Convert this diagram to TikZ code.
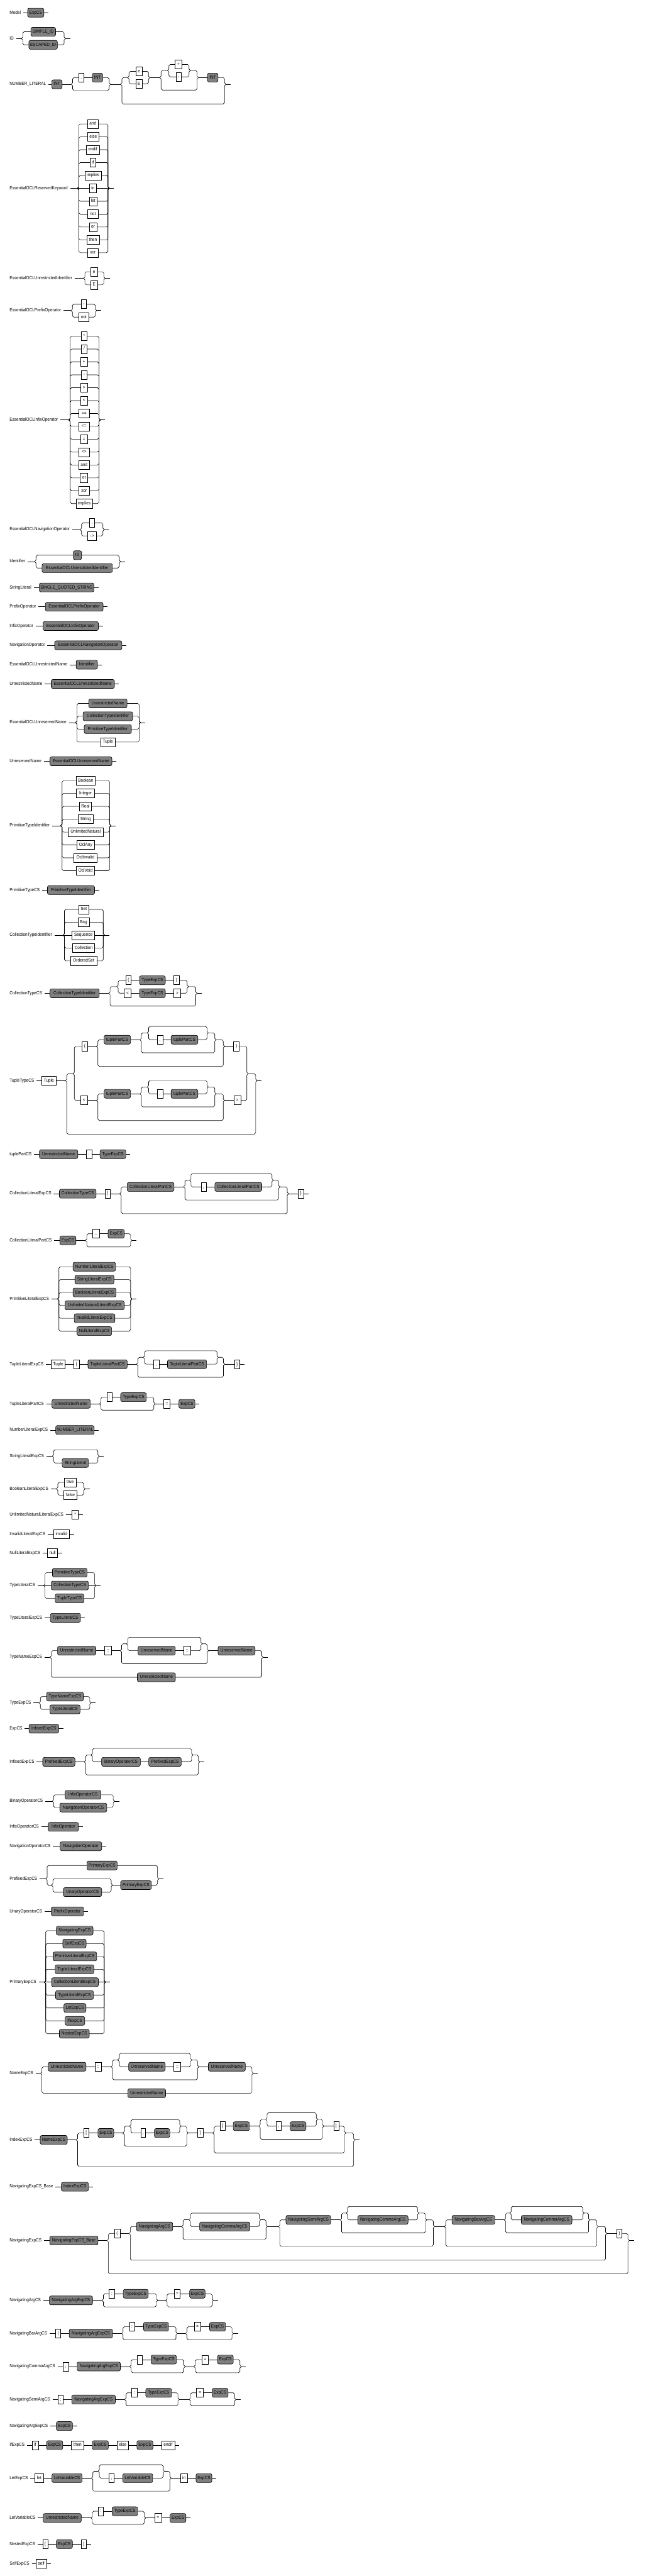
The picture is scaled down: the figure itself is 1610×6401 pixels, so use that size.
\documentclass[tikz,border=0pt]{standalone}
\usepackage{fontspec}
\setmainfont{Liberation Sans}[FakeStretch=0.88]
\definecolor{ntgray}{RGB}{128,128,128}
\newcommand\lblfont{\fontsize{11.5}{13}\selectfont}
\tikzset{
 rail/.style={line width=1pt},
 ntbox/.style={draw, line width=1pt, fill=ntgray, rounded corners=4pt, minimum height=22pt, inner sep=0pt, outer sep=0pt, font=\lblfont, text height=8.3pt, text depth=2.4pt},
 tmbox/.style={draw, line width=1pt, fill=white, minimum height=22pt, inner sep=0pt, outer sep=0pt, font=\lblfont, text height=8.3pt, text depth=2.4pt},
 rlabel/.style={anchor=west, inner sep=0pt, outer sep=0pt, font=\lblfont, text height=8.3pt, text depth=2.4pt},
}
\def\rrc{3.5}
\newcommand\NTb[5]{\pgfmathsetmacro\rrw{(#3)-(#2)}\pgfmathsetmacro\rrx{((#2)+(#3))/2}\node[ntbox, minimum width=\rrw pt] (#1) at (\rrx,#4) {#5};}
\newcommand\TMb[5]{\pgfmathsetmacro\rrw{(#3)-(#2)}\pgfmathsetmacro\rrx{((#2)+(#3))/2}\node[tmbox, minimum width=\rrw pt] (#1) at (\rrx,#4) {#5};}
\newcommand\LabN[3]{\node[rlabel] (#1) at (24,#2) {#3};}
\newcommand\LabL[2]{\draw[rail, shorten <=6pt] (#1.east) -- (#2);}
\newcommand\SeqL[2]{\draw[rail] (#1) -- (#2);}
\newcommand\ExL[1]{\draw[rail] (#1) -- ++(11.5,0);}
% left branch: xs ym yi target
\newcommand\BrL[4]{\pgfmathsetmacro\rrs{sign((#3)-(#2))}\draw[rail] (#1,#2) -- ({#1+\rrc},{#2+(\rrs)*\rrc}) -- ({#1+\rrc},{#3-(\rrs)*\rrc}) -- ({#1+2*\rrc},#3) -- (#4);}
% right merge: source yi xe ym
\newcommand\MgR[4]{\pgfmathsetmacro\rrs{sign((#2)-(#4))}\draw[rail] (#1) -- ({#3-2*\rrc},#2) -- ({#3-\rrc},{#2-(\rrs)*\rrc}) -- ({#3-\rrc},{#4+(\rrs)*\rrc}) -- (#3,#4);}
% bypass: xs xe ym yi
\newcommand\ByP[4]{\pgfmathsetmacro\rrs{sign((#4)-(#3))}\draw[rail] (#1,#3) -- ({#1+\rrc},{#3+(\rrs)*\rrc}) -- ({#1+\rrc},{#4-(\rrs)*\rrc}) -- ({#1+2*\rrc},#4) -- ({#2-2*\rrc},#4) -- ({#2-\rrc},{#4-(\rrs)*\rrc}) -- ({#2-\rrc},{#3+(\rrs)*\rrc}) -- (#2,#3);}
% alternative row: xs xe ym yi first last
\newcommand\AltG[6]{\BrL{#1}{#3}{#4}{#5.west}\MgR{#6.east}{#4}{#2}{#3}}
% optional: xs xe ym yup ydown first last
\newcommand\OptG[7]{\AltG{#1}{#2}{#3}{#4}{#6}{#7}\ByP{#1}{#2}{#3}{#5}}
% loop: xsB xsC xeC xeB yrow first last
\newcommand\LoopG[7]{\pgfmathsetmacro\rrya{(#5)-17}\pgfmathsetmacro\rryb{(#5)+32.5}\pgfmathsetmacro\rryc{(#5)-33.3}%
 \BrL{#1}{#5}{\rrya}{#2,\rrya}\ByP{#2}{#3}{\rrya}{\rryc}\AltG{#2}{#3}{\rrya}{#5}{#6}{#7}\MgR{#3,\rrya}{\rrya}{#4}{#5}\ByP{#1}{#4}{#5}{\rryb}}
\newcommand\SetG[3]{\def\gxs{#1}\def\gxe{#2}\def\gym{#3}}
\newcommand\ATm[5]{\TMb{#1}{#2}{#3}{#4}{#5}\AltG{\gxs}{\gxe}{\gym}{#4}{#1}{#1}}
\newcommand\ANt[5]{\NTb{#1}{#2}{#3}{#4}{#5}\AltG{\gxs}{\gxe}{\gym}{#4}{#1}{#1}}
\newcommand\SimpleN[6]{\LabN{l#1}{#2}{#3}\NTb{n#1}{#4}{#5}{#2}{#6}\LabL{l#1}{n#1.west}\ExL{n#1.east}}
\newcommand\SimpleT[6]{\LabN{l#1}{#2}{#3}\TMb{n#1}{#4}{#5}{#2}{#6}\LabL{l#1}{n#1.west}\ExL{n#1.east}}
\newcommand\TupRow[8]{\pgfmathsetmacro\tya{(#2)-16.5}\pgfmathsetmacro\tyb{(#2)+49.9}%
 \TMb{#1o}{#4}{#5}{#2}{#3}%
 \NTb{#1t}{258.9}{324.4}{\tya}{tuplePartCS}%
 \TMb{#1k}{391.3}{404.7}{\tya}{,}%
 \NTb{#1u}{425.4}{491.8}{\tya}{tuplePartCS}%
 \TMb{#1c}{#7}{#8}{#2}{#6}%
 \SeqL{#1o.east}{240,#2}%
 \BrL{240}{#2}{\tya}{#1t.west}%
 \SeqL{#1t.east}{347.7,\tya}%
 \SeqL{#1k.east}{#1u.west}%
 \LoopG{347.7}{366}{518.2}{537.5}{\tya}{#1k}{#1u}%
 \MgR{537.5,\tya}{\tya}{558.6}{#2}%
 \ByP{240}{558.6}{#2}{\tyb}%
 \SeqL{558.6,#2}{#1c.west}}
\begin{document}
\begin{tikzpicture}[x=1pt,y=-1pt]
\useasboundingbox (0,0) rectangle (1610,6401);
\fill[white] (0,0) rectangle (1610,6401);
% Model
\SimpleN{1}{31.5}{Model}{68.6}{109}{ExpCS}
% ID
\LabN{l2}{95.7}{ID}\LabL{l2}{53,95.7}
\SetG{53}{163}{95.7}
\ANt{n2a}{76.7}{138.2}{79}{SIMPLE\_ID}
\ANt{n2b}{71.8}{142.7}{111.4}{ESCAPED\_ID}
\ExL{163,95.7}
% NUMBER_LITERAL
\LabN{l3}{209.4}{NUMBER\_LITERAL}
\NTb{n3a}{128.8}{154.3}{209.4}{INT}
\LabL{l3}{n3a.west}
\SeqL{n3a.east}{177,209.4}
\TMb{n3b}{195.6}{208.6}{192.8}{.}
\NTb{n3c}{229.7}{255.3}{192.8}{INT}
\SeqL{n3b.east}{n3c.west}
\OptG{177}{275}{209.4}{192.8}{224.9}{n3b}{n3c}
\SeqL{275,209.4}{299.7,209.4}
\BrL{299.7}{209.4}{192.8}{317.3,192.8}
\SetG{317.3}{372.8}{192.8}
\ATm{n3d}{337.9}{353.1}{177.3}{e}
\ATm{n3e}{337.9}{353.1}{208.3}{E}
\SeqL{372.8,192.8}{397,192.8}
\BrL{397}{192.8}{175}{416.4,175}
\SetG{416.4}{473.4}{175}
\ATm{n3f}{435.2}{452.7}{160.1}{+}
\ATm{n3g}{437.5}{451}{191.1}{-}
\MgR{473.4,175}{175}{493.6}{192.8}
\ByP{397}{493.6}{192.8}{223.8}
\NTb{n3h}{516}{542}{192.8}{INT}
\SeqL{493.6,192.8}{n3h.west}
\MgR{n3h.east}{192.8}{562}{209.4}
\ByP{299.7}{562}{209.4}{258.3}
\ExL{562,209.4}
% EssentialOCLReservedKeyword
\LabN{l4}{468}{EssentialOCLReservedKeyword}\LabL{l4}{192.5,468}
\SetG{192.5}{272}{468}
\ATm{n4a}{217.2}{245}{308}{and}
\ATm{n4b}{217.6}{245.9}{340}{else}
\ATm{n4c}{214}{247.7}{372}{endif}
\ATm{n4d}{223.5}{238.7}{404}{if}
\ATm{n4e}{211.3}{251.7}{436}{implies}
\ATm{n4f}{222.6}{239.6}{468}{in}
\ATm{n4g}{221.7}{241.9}{500}{let}
\ATm{n4h}{218.5}{243.6}{532}{not}
\ATm{n4i}{221.7}{241}{564}{or}
\ATm{n4j}{215.4}{246.8}{596}{then}
\ATm{n4k}{218.5}{243.6}{628}{xor}
\ExL{272,468}
% EssentialOCLUnrestrictedIdentifier
\LabN{l5}{691.5}{EssentialOCLUnrestrictedIdentifier}\LabL{l5}{207.7,691.5}
\SetG{207.7}{261.6}{691.5}
\ATm{n5a}{226}{242}{675.3}{e}
\ATm{n5b}{226}{242}{707.7}{E}
\ExL{261.6,691.5}
% EssentialOCLPrefixOperator
\LabN{l6}{771.7}{EssentialOCLPrefixOperator}\LabL{l6}{176.5,771.7}
\SetG{176.5}{240.5}{771.7}
\ATm{n6a}{201.5}{214.5}{755.6}{-}
\ATm{n6b}{195.6}{220.8}{788}{not}
\ExL{240.5,771.7}
% EssentialOCLInfixOperator
\LabN{l7}{1043.4}{EssentialOCLInfixOperator}\LabL{l7}{171,1043.4}
\SetG{171}{249.5}{1043.4}
\ATm{n7a}{201.5}{216.7}{835.4}{*}
\ATm{n7b}{202.8}{215.8}{867.4}{/}
\ATm{n7c}{200.6}{217.6}{899.4}{+}
\ATm{n7d}{202.8}{215.8}{931.4}{-}
\ATm{n7e}{200.6}{217.6}{963.4}{>}
\ATm{n7f}{200.6}{217.6}{995.4}{<}
\ATm{n7g}{196.5}{221.7}{1027.4}{>=}
\ATm{n7h}{196.5}{221.7}{1059.4}{<=}
\ATm{n7i}{200}{217.6}{1091.4}{=}
\ATm{n7j}{196.5}{221.7}{1123.4}{<>}
\ATm{n7k}{195.2}{222.6}{1155.4}{and}
\ATm{n7l}{199.7}{218.5}{1187.4}{or}
\ATm{n7m}{196.5}{221.7}{1219.4}{xor}
\ATm{n7n}{189.4}{229.7}{1251.4}{implies}
\ExL{249.5,1043.4}
% EssentialOCLNavigationOperator
\LabN{l8}{1315.9}{EssentialOCLNavigationOperator}\LabL{l8}{199.2,1315.9}
\SetG{199.2}{259.4}{1315.9}
\ATm{n8a}{222}{235.6}{1299.4}{.}
\ATm{n8b}{218}{239.6}{1331.7}{->}
\ExL{259.4,1315.9}
% Identifier
\LabN{l9}{1395.4}{Identifier}\LabL{l9}{86,1395.4}
\SetG{86}{299.7}{1395.4}
\ANt{n9a}{182.2}{202.8}{1379.6}{ID}
\ANt{n9b}{104.5}{279.5}{1411.6}{EssentialOCLUnrestrictedIdentifier}
\ExL{299.7,1395.4}
% simple rules
\SimpleN{10}{1459.8}{StringLiteral}{97.8}{233.3}{SINGLE\_QUOTED\_STRING}
\SimpleN{11}{1507.7}{PrefixOperator}{113}{256.2}{EssentialOCLPrefixOperator}
\SimpleN{12}{1555.6}{InfixOperator}{106.8}{244.5}{EssentialOCLInfixOperator}
\SimpleN{13}{1603.4}{NavigationOperator}{136}{302.9}{EssentialOCLNavigationOperator}
\SimpleN{14}{1651.7}{EssentialOCLUnrestrictedName}{189.4}{242.3}{Identifier}
\SimpleN{15}{1699.5}{UnrestrictedName}{127.4}{284.5}{EssentialOCLUnrestrictedName}
% EssentialOCLUnreservedName
\LabN{l16}{1795.6}{EssentialOCLUnreservedName}\LabL{l16}{187.8,1795.6}
\SetG{187.8}{349.5}{1795.6}
\ANt{n16a}{220.8}{315.9}{1747.8}{UnrestrictedName}
\ANt{n16b}{206.4}{329.8}{1779.8}{CollectionTypeIdentifier}
\ANt{n16c}{209.5}{326.7}{1811.8}{PrimitiveTypeIdentifier}
\ATm{n16d}{250.8}{285.8}{1843.8}{Tuple}
\ExL{349.5,1795.6}
\SimpleN{17}{1891.7}{UnreservedName}{124.3}{278.2}{EssentialOCLUnreservedName}
% PrimitiveTypeIdentifier
\LabN{l18}{2051.6}{PrimitiveTypeIdentifier}\LabL{l18}{150.9,2051.6}
\SetG{150.9}{276}{2051.6}
\ATm{n18a}{188.9}{236.9}{1939.6}{Boolean}
\ATm{n18b}{190.3}{235.6}{1971.6}{Integer}
\ATm{n18c}{197.4}{227.5}{2003.6}{Real}
\ATm{n18d}{194.3}{231.5}{2035.6}{String}
\ATm{n18e}{169.2}{256.7}{2067.6}{UnlimitedNatural}
\ATm{n18f}{191.6}{234.7}{2099.6}{OclAny}
\ATm{n18g}{184}{241}{2131.6}{OclInvalid}
\ATm{n18h}{190.3}{234.7}{2163.6}{OclVoid}
\ExL{276,2051.6}
\SimpleN{19}{2211.7}{PrimitiveTypeCS}{118}{235.1}{PrimitiveTypeIdentifier}
% CollectionTypeIdentifier
\LabN{l20}{2323.6}{CollectionTypeIdentifier}\LabL{l20}{156.7,2323.6}
\SetG{156.7}{260.2}{2323.6}
\ATm{n20a}{195.6}{220.8}{2259.6}{Set}
\ATm{n20b}{193.8}{221.7}{2291.6}{Bag}
\ATm{n20c}{179}{235.6}{2323.6}{Sequence}
\ATm{n20d}{180}{235.6}{2355.6}{Collection}
\ATm{n20e}{175.4}{240.5}{2387.6}{OrderedSet}
\ExL{260.2,2323.6}
% CollectionTypeCS
\LabN{l21}{2468.2}{CollectionTypeCS}
\NTb{n21a}{124.3}{246.8}{2468.2}{CollectionTypeIdentifier}
\LabL{l21}{n21a.west}
\SeqL{n21a.east}{270.2,2468.2}
\BrL{270.2}{2468.2}{2451.7}{290.4,2451.7}
\MgR{468.8,2451.7}{2451.7}{490.3}{2468.2}
\ByP{270.2}{490.3}{2468.2}{2499.9}
\TMb{n21b}{312.7}{326.2}{2435.8}{(}
\NTb{n21c}{346.8}{411}{2435.8}{TypeExpCS}
\TMb{n21d}{432.1}{445.6}{2435.8}{)}
\TMb{n21e}{308.7}{326.2}{2467.9}{<}
\NTb{n21f}{346.8}{411}{2467.9}{TypeExpCS}
\TMb{n21g}{432.1}{449.6}{2467.9}{>}
\SeqL{n21b.east}{n21c.west}\SeqL{n21c.east}{n21d.west}
\SeqL{n21e.east}{n21f.west}\SeqL{n21f.east}{n21g.west}
\AltG{290.4}{468.8}{2451.7}{2435.8}{n21b}{n21d}
\AltG{290.4}{468.8}{2451.7}{2467.9}{n21e}{n21g}
\ExL{490.3,2468.2}
% TupleTypeCS
\LabN{l22}{2685.1}{TupleTypeCS}
\TMb{n22a}{104.1}{139.1}{2685.1}{Tuple}
\LabL{l22}{n22a.west}
\SeqL{n22a.east}{162.5,2685.1}
\BrL{162.5}{2685.1}{2668}{181.4,2668}
\MgR{617.3,2668}{2668}{639.3}{2685.1}
\ByP{162.5}{639.3}{2685.1}{2818.1}
\TupRow{tA}{2600.1}{(}{204.2}{217.6}{)}{581}{594.5}
\TupRow{tB}{2734.4}{<}{200.2}{217.5}{>}{581.5}{598.3}
\AltG{181.4}{617.3}{2668}{2600.1}{tAo}{tAc}
\AltG{181.4}{617.3}{2668}{2734.4}{tBo}{tBc}
\ExL{639.3,2685.1}
% tuplePartCS
\LabN{l23}{2868}{tuplePartCS}
\NTb{n23a}{98.1}{193.3}{2868}{UnrestrictedName}
\TMb{n23b}{214}{227.9}{2868}{:}
\NTb{n23c}{248.7}{312.7}{2868}{TypeExpCS}
\LabL{l23}{n23a.west}\SeqL{n23a.east}{n23b.west}\SeqL{n23b.east}{n23c.west}\ExL{n23c.east}
% CollectionLiteralExpCS
\LabN{l24}{2966.2}{CollectionLiteralExpCS}
\NTb{n24a}{147.7}{238.9}{2966.2}{CollectionTypeCS}
\TMb{n24b}{260.8}{274.6}{2966.2}{\{}
\NTb{n24c}{316.2}{432.7}{2949.3}{CollectionLiteralPartCS}
\TMb{n24d}{500.2}{512.9}{2949.3}{,}
\NTb{n24e}{534.2}{650.8}{2949.3}{CollectionLiteralPartCS}
\TMb{n24f}{741.3}{755.2}{2966.2}{\}}
\LabL{l24}{n24a.west}\SeqL{n24a.east}{n24b.west}\SeqL{n24b.east}{297.7,2966.2}
\BrL{297.7}{2966.2}{2949.3}{n24c.west}
\SeqL{n24c.east}{456.3,2949.3}
\SeqL{n24d.east}{n24e.west}
\LoopG{456.3}{471.3}{679.7}{696.4}{2949.3}{n24d}{n24e}
\MgR{696.4,2949.3}{2949.3}{717.7}{2966.2}
\ByP{297.7}{717.7}{2966.2}{3015.8}
\SeqL{717.7,2966.2}{n24f.west}\ExL{n24f.east}
% CollectionLiteralPartCS
\LabN{l25}{3082.2}{CollectionLiteralPartCS}
\NTb{n25a}{148.8}{188.7}{3082.2}{ExpCS}
\LabL{l25}{n25a.west}
\SeqL{n25a.east}{212.3,3082.2}
\TMb{n25b}{230.8}{247.5}{3065.7}{..}
\NTb{n25c}{268.8}{308.7}{3065.7}{ExpCS}
\SeqL{n25b.east}{n25c.west}
\OptG{212.3}{328.3}{3082.2}{3065.7}{3098.4}{n25b}{n25c}
\ExL{328.3,3082.2}
% PrimitiveLiteralExpCS
\LabN{l26}{3227.6}{PrimitiveLiteralExpCS}\LabL{l26}{143,3227.6}
\SetG{143}{328.3}{3227.6}
\ANt{n26a}{181.7}{287.3}{3147.6}{NumberLiteralExpCS}
\ANt{n26b}{186.3}{283.3}{3179.6}{StringLiteralExpCS}
\ANt{n26c}{181.7}{288.5}{3211.6}{BooleanLiteralExpCS}
\ANt{n26d}{161.5}{308.7}{3243.6}{UnlimitedNaturalLiteralExpCS}
\ANt{n26e}{184.6}{285.6}{3275.6}{InvalidLiteralExpCS}
\ANt{n26f}{191.5}{277.5}{3307.6}{NullLiteralExpCS}
\ExL{328.3,3227.6}
% TupleLiteralExpCS
\LabN{l27}{3389.8}{TupleLiteralExpCS}
\TMb{n27a}{127.5}{162.1}{3389.8}{Tuple}
\TMb{n27b}{183.5}{197.3}{3389.8}{\{}
\NTb{n27c}{218.7}{316.2}{3389.8}{TupleLiteralPartCS}
\TMb{n27d}{382.5}{395.8}{3389.8}{,}
\NTb{n27e}{416.5}{513.5}{3389.8}{TupleLiteralPartCS}
\TMb{n27f}{582.7}{596}{3389.8}{\}}
\LabL{l27}{n27a.west}\SeqL{n27a.east}{n27b.west}\SeqL{n27b.east}{n27c.west}
\SeqL{n27c.east}{339.2,3389.8}\SeqL{n27d.east}{n27e.west}
\LoopG{339.2}{356}{543}{559.1}{3389.8}{n27d}{n27e}
\SeqL{559.1,3389.8}{n27f.west}\ExL{n27f.east}
% TupleLiteralPartCS
\LabN{l28}{3488.3}{TupleLiteralPartCS}
\NTb{n28a}{129.2}{224.4}{3488.3}{UnrestrictedName}
\TMb{n28b}{266}{278.7}{3471.7}{:}
\NTb{n28c}{300}{364}{3471.7}{TypeExpCS}
\TMb{n28d}{406.7}{422.9}{3488.3}{=}
\NTb{n28e}{444.8}{484.6}{3488.3}{ExpCS}
\LabL{l28}{n28a.west}\SeqL{n28a.east}{247.5,3488.3}\SeqL{n28b.east}{n28c.west}
\OptG{247.5}{386}{3488.3}{3471.7}{3504.1}{n28b}{n28c}
\SeqL{386,3488.3}{n28d.west}\SeqL{n28d.east}{n28e.west}\ExL{n28e.east}
\SimpleN{29}{3553.4}{NumberLiteralExpCS}{138.5}{234.2}{NUMBER\_LITERAL}
% StringLiteralExpCS
\LabN{l30}{3618.4}{StringLiteralExpCS}\LabL{l30}{129.8,3618.4}
\NTb{n30a}{154.6}{219.8}{3635.3}{StringLiteral}
\ByP{129.8}{246.9}{3618.4}{3602.3}
\AltG{129.8}{246.9}{3618.4}{3635.3}{n30a}{n30a}
\ExL{246.9,3618.4}
% BooleanLiteralExpCS
\LabN{l31}{3699.4}{BooleanLiteralExpCS}\LabL{l31}{140.2,3699.4}
\SetG{140.2}{211.8}{3699.4}
\ATm{n31a}{159.8}{189.2}{3683.5}{true}
\ATm{n31b}{158.7}{191.5}{3715.2}{false}
\ExL{211.8,3699.4}
\SimpleT{32}{3763.4}{UnlimitedNaturalLiteralExpCS}{179.4}{194.4}{*}
\SimpleT{33}{3811.7}{InvalidLiteralExpCS}{133.3}{172.5}{invalid}
\SimpleT{34}{3859.5}{NullLiteralExpCS}{118.3}{143.1}{null}
% TypeLiteralCS
\LabN{l35}{3939.8}{TypeLiteralCS}\LabL{l35}{108.4,3939.8}
\SetG{108.4}{238.9}{3939.8}
\ANt{n35a}{130.4}{216.3}{3907.8}{PrimitiveTypeCS}
\ANt{n35b}{127.5}{219.8}{3939.8}{CollectionTypeCS}
\ANt{n35c}{137.3}{208.8}{3971.8}{TupleTypeCS}
\ExL{238.9,3939.8}
\SimpleN{36}{4020}{TypeLiteralExpCS}{125.2}{200.2}{TypeLiteralCS}
% TypeNameExpCS
\LabN{l37}{4117.8}{TypeNameExpCS}\LabL{l37}{124,4117.8}
\NTb{n37a}{143.1}{238.3}{4101.6}{UnrestrictedName}
\TMb{n37b}{259.6}{276.9}{4101.6}{::}
\NTb{n37c}{343.3}{435.6}{4101.6}{UnreservedName}
\TMb{n37d}{456.9}{473.7}{4101.6}{::}
\NTb{n37e}{542.3}{634}{4101.6}{UnreservedName}
\NTb{n37f}{341.5}{436.2}{4167.7}{UnrestrictedName}
\BrL{124}{4117.8}{4101.6}{n37a.west}
\SeqL{n37a.east}{n37b.west}\SeqL{n37b.east}{298.8,4101.6}\SeqL{n37c.east}{n37d.west}
\LoopG{298.8}{314.4}{503.1}{518.7}{4101.6}{n37c}{n37d}
\SeqL{518.7,4101.6}{n37e.west}
\MgR{n37e.east}{4101.6}{654.3}{4117.8}
\AltG{124}{654.3}{4117.8}{4167.7}{n37f}{n37f}
\ExL{654.3,4117.8}
% TypeExpCS
\LabN{l38}{4231.5}{TypeExpCS}\LabL{l38}{96.9,4231.5}
\SetG{96.9}{226.8}{4231.5}
\ANt{n38a}{116}{207.1}{4215.7}{TypeNameExpCS}
\ANt{n38b}{124}{199}{4247.5}{TypeLiteralCS}
\ExL{226.8,4231.5}
\SimpleN{39}{4295.5}{ExpCS}{72.1}{146}{InfixedExpCS}
% InfixedExpCS
\LabN{l40}{4377.9}{InfixedExpCS}
\NTb{n40a}{106.2}{186.3}{4377.9}{PrefixedExpCS}
\NTb{n40b}{252.7}{349}{4377.9}{BinaryOperatorCS}
\NTb{n40c}{369.8}{450.6}{4377.9}{PrefixedExpCS}
\LabL{l40}{n40a.west}\SeqL{n40a.east}{209.4,4377.9}\SeqL{n40b.east}{n40c.west}
\LoopG{209.4}{226.2}{480}{496.8}{4377.9}{n40b}{n40c}
\ExL{496.8,4377.9}
% BinaryOperatorCS
\LabN{l41}{4475.6}{BinaryOperatorCS}\LabL{l41}{129.8,4475.6}
\SetG{129.8}{285}{4475.6}
\ANt{n41a}{162.1}{251}{4459.8}{InfixOperatorCS}
\ANt{n41b}{148.8}{265.4}{4491.5}{NavigationOperatorCS}
\ExL{285,4475.6}
\SimpleN{42}{4539.4}{InfixOperatorCS}{120}{195}{InfixOperator}
\SimpleN{43}{4587.6}{NavigationOperatorCS}{149.4}{252.7}{NavigationOperator}
% PrefixedExpCS
\LabN{l44}{4668.5}{PrefixedExpCS}\LabL{l44}{113.6,4668.5}
\NTb{n44a}{216.3}{291.3}{4635.4}{PrimaryExpCS}
\AltG{113.6}{395.2}{4668.5}{4635.4}{n44a}{n44a}
\BrL{113.6}{4668.5}{4684.3}{128,4684.3}
\NTb{n44b}{157.5}{252.7}{4701.5}{UnaryOperatorCS}
\ByP{128}{280}{4684.3}{4668.5}
\AltG{128}{280}{4684.3}{4701.5}{n44b}{n44b}
\NTb{n44c}{300}{376.2}{4684.3}{PrimaryExpCS}
\SeqL{280,4684.3}{n44c.west}
\MgR{n44c.east}{4684.3}{395.2}{4668.5}
\ExL{395.2,4668.5}
\SimpleN{45}{4749.4}{UnaryOperatorCS}{127.5}{207.7}{PrefixOperator}
% PrimaryExpCS
\LabN{l46}{4925.4}{PrimaryExpCS}\LabL{l46}{110.2,4925.4}
\SetG{110.2}{262.5}{4925.4}
\ANt{n46a}{140.2}{231.3}{4797.4}{NavigatingExpCS}
\ANt{n46b}{156.3}{214}{4829.4}{SelfExpCS}
\ANt{n46c}{132}{240.5}{4861.4}{PrimitiveLiteralExpCS}
\ANt{n46d}{137.3}{233.2}{4893.4}{TupleLiteralExpCS}
\ANt{n46e}{128}{244.6}{4925.4}{CollectionLiteralExpCS}
\ANt{n46f}{138.3}{232.2}{4957.4}{TypeLiteralExpCS}
\ANt{n46g}{159}{213.6}{4989.4}{LetExpCS}
\ANt{n46h}{162}{210.5}{5021.4}{IfExpCS}
\ANt{n46i}{147.6}{221.9}{5053.4}{NestedExpCS}
\ExL{262.5,4925.4}
% NameExpCS
\LabN{l47}{5151.7}{NameExpCS}\LabL{l47}{100.7,5151.7}
\NTb{n47a}{119.7}{213.6}{5135.5}{UnrestrictedName}
\TMb{n47b}{236.3}{251.8}{5135.5}{::}
\NTb{n47c}{320}{410.7}{5135.5}{UnreservedName}
\TMb{n47d}{432.4}{449}{5135.5}{::}
\NTb{n47e}{518}{610}{5135.5}{UnreservedName}
\NTb{n47f}{317.9}{411.8}{5201.3}{UnrestrictedName}
\BrL{100.7}{5151.7}{5135.5}{n47a.west}
\SeqL{n47a.east}{n47b.west}\SeqL{n47b.east}{276.2,5135.5}\SeqL{n47c.east}{n47d.west}
\LoopG{276.2}{292.7}{477.2}{494.7}{5135.5}{n47c}{n47d}
\SeqL{494.7,5135.5}{n47e.west}
\MgR{n47e.east}{5135.5}{629.9}{5151.7}
\AltG{100.7}{629.9}{5151.7}{5201.3}{n47f}{n47f}
\ExL{629.9,5151.7}
% IndexExpCS
\LabN{l48}{5317.3}{IndexExpCS}
\NTb{n48a}{100.1}{167.2}{5317.3}{NameExpCS}
\LabL{l48}{n48a.west}\SeqL{n48a.east}{189.5,5317.3}
\TMb{n48b}{208.5}{220.9}{5300.1}{[}
\NTb{n48c}{243.6}{282.8}{5300.1}{ExpCS}
\TMb{n48d}{349.8}{362.2}{5300.1}{,}
\NTb{n48e}{383.9}{422.1}{5300.1}{ExpCS}
\TMb{n48f}{491.2}{504.6}{5300.1}{]}
\BrL{189.5}{5317.3}{5300.1}{n48b.west}
\SeqL{n48b.east}{n48c.west}\SeqL{n48c.east}{305.1,5300.1}\SeqL{n48d.east}{n48e.west}
\LoopG{305.1}{322}{450.4}{467.9}{5300.1}{n48d}{n48e}
\SeqL{467.9,5300.1}{n48f.west}\SeqL{n48f.east}{529,5300.1}
\TMb{n48g}{547}{559.3}{5283.2}{[}
\NTb{n48h}{580}{620.2}{5283.2}{ExpCS}
\TMb{n48i}{686.3}{698.7}{5283.2}{,}
\NTb{n48j}{721.4}{760.6}{5283.2}{ExpCS}
\TMb{n48k}{829.7}{842.1}{5283.2}{]}
\BrL{529}{5300.1}{5283.2}{n48g.west}
\SeqL{n48g.east}{n48h.west}\SeqL{n48h.east}{643.5,5283.2}\SeqL{n48i.east}{n48j.west}
\LoopG{643.5}{660.5}{789.9}{805.4}{5283.2}{n48i}{n48j}
\SeqL{805.4,5283.2}{n48k.west}
\MgR{n48k.east}{5283.2}{860.1}{5300.1}
\ByP{529}{860.1}{5300.1}{5349.7}
\MgR{860.1,5300.1}{5300.1}{882.8}{5317.3}
\ByP{189.5}{882.8}{5317.3}{5383.4}
\ExL{882.8,5317.3}
\SimpleN{49}{5433.7}{NavigatingExpCS\_Base}{152.7}{219.8}{IndexExpCS}
% NavigatingExpCS
\LabN{l50}{5567.4}{NavigatingExpCS}
\NTb{n50a}{123.8}{243.6}{5567.4}{NavigatingExpCS\_Base}
\LabL{l50}{n50a.west}\SeqL{n50a.east}{265.9,5567.4}
\TMb{n50b}{284.8}{298.3}{5549.8}{(}
\BrL{265.9}{5567.4}{5549.8}{n50b.west}
\SeqL{n50b.east}{320.5,5549.8}
\NTb{n50c}{339.5}{429.3}{5532.6}{NavigatingArgCS}
\BrL{320.5}{5549.8}{5532.6}{n50c.west}
\SeqL{n50c.east}{451.6,5532.6}
\NTb{n50d}{496.4}{621.3}{5532.6}{NavigatingCommaArgCS}
\LoopG{451.6}{469.6}{648.5}{665}{5532.6}{n50d}{n50d}
\SeqL{665,5532.6}{692.1,5532.6}
\NTb{n50e}{711}{822.5}{5516}{NavigatingSemiArgCS}
\BrL{692.1}{5532.6}{5516}{n50e.west}
\SeqL{n50e.east}{845.8,5516}
\NTb{n50f}{889.6}{1014.5}{5516}{NavigatingCommaArgCS}
\LoopG{845.8}{860.7}{1041.7}{1061.3}{5516}{n50f}{n50f}
\MgR{1061.3,5516}{5516}{1080.9}{5532.6}
\ByP{692.1}{1080.9}{5532.6}{5581.8}
\SeqL{1080.9,5532.6}{1104.9,5532.6}
\NTb{n50g}{1123.8}{1230.1}{5516}{NavigatingBarArgCS}
\BrL{1104.9}{5532.6}{5516}{n50g.west}
\SeqL{n50g.east}{1253.5,5516}
\NTb{n50h}{1296.2}{1422.1}{5516}{NavigatingCommaArgCS}
\LoopG{1253.5}{1267.3}{1452.5}{1466.9}{5516}{n50h}{n50h}
\MgR{1466.9,5516}{5516}{1487.5}{5532.6}
\ByP{1104.9}{1487.5}{5532.6}{5581.8}
\MgR{1487.5,5532.6}{5532.6}{1509.2}{5549.8}
\ByP{320.5}{1509.2}{5549.8}{5616.3}
\TMb{n50i}{1533.6}{1546}{5549.8}{)}
\SeqL{1509.2,5549.8}{n50i.west}
\MgR{n50i.east}{5549.8}{1564.9}{5567.4}
\ByP{265.9}{1564.9}{5567.4}{5650.3}
\ExL{1564.9,5567.4}
% NavigatingArgCS
\LabN{l51}{5716.1}{NavigatingArgCS}
\NTb{n51a}{122.8}{230.1}{5716.1}{NavigatingArgExpCS}
\TMb{n51b}{271.4}{284.8}{5699.6}{:}
\NTb{n51c}{306.5}{368.4}{5699.6}{TypeExpCS}
\TMb{n51d}{433.4}{447.9}{5699.6}{=}
\NTb{n51e}{471.6}{509.8}{5699.6}{ExpCS}
\LabL{l51}{n51a.west}\SeqL{n51a.east}{253.5,5716.1}\SeqL{n51b.east}{n51c.west}\SeqL{n51d.east}{n51e.west}
\OptG{253.5}{392.5}{5716.1}{5699.6}{5732.3}{n51b}{n51c}
\SeqL{392.5,5716.1}{412,5716.1}
\OptG{412}{530.9}{5716.1}{5699.6}{5732.3}{n51d}{n51e}
\ExL{530.9,5716.1}
% NavigatingBarArgCS
\LabN{l52}{5798.4}{NavigatingBarArgCS}
\TMb{n52a}{138.3}{150.7}{5798.4}{|}
\NTb{n52b}{172.3}{279.7}{5798.4}{NavigatingArgExpCS}
\TMb{n52c}{322}{334.4}{5781.5}{:}
\NTb{n52d}{357.1}{419}{5781.5}{TypeExpCS}
\TMb{n52e}{483}{498.5}{5781.5}{=}
\NTb{n52f}{521.2}{560.4}{5781.5}{ExpCS}
\LabL{l52}{n52a.west}\SeqL{n52a.east}{n52b.west}\SeqL{n52b.east}{302.5,5798.4}\SeqL{n52c.east}{n52d.west}\SeqL{n52e.east}{n52f.west}
\OptG{302.5}{441.1}{5798.4}{5781.5}{5814.3}{n52c}{n52d}
\SeqL{441.1,5798.4}{461.5,5798.4}
\OptG{461.5}{580.4}{5798.4}{5781.5}{5814.3}{n52e}{n52f}
\ExL{580.4,5798.4}
% NavigatingCommaArgCS
\LabN{l53}{5880.4}{NavigatingCommaArgCS}
\TMb{n53a}{156.9}{170.3}{5880.4}{,}
\NTb{n53b}{192}{299.3}{5880.4}{NavigatingArgExpCS}
\TMb{n53c}{340.6}{354}{5863.2}{:}
\NTb{n53d}{375.6}{438.6}{5863.2}{TypeExpCS}
\TMb{n53e}{502.6}{518}{5863.2}{=}
\NTb{n53f}{540.8}{580}{5863.2}{ExpCS}
\LabL{l53}{n53a.west}\SeqL{n53a.east}{n53b.west}\SeqL{n53b.east}{322.6,5880.4}\SeqL{n53c.east}{n53d.west}\SeqL{n53e.east}{n53f.west}
\OptG{322.6}{460.7}{5880.4}{5863.2}{5895.9}{n53c}{n53d}
\SeqL{460.7,5880.4}{482,5880.4}
\OptG{482}{600}{5880.4}{5863.2}{5895.9}{n53e}{n53f}
\ExL{600,5880.4}
% NavigatingSemiArgCS
\LabN{l54}{5962.3}{NavigatingSemiArgCS}
\TMb{n54a}{144.2}{157.5}{5962.3}{;}
\NTb{n54b}{178.3}{286.7}{5962.3}{NavigatingArgExpCS}
\TMb{n54c}{327.7}{341.6}{5945.7}{:}
\NTb{n54d}{362.3}{426.4}{5945.7}{TypeExpCS}
\TMb{n54e}{488.7}{506}{5945.7}{=}
\NTb{n54f}{527.3}{567.1}{5945.7}{ExpCS}
\LabL{l54}{n54a.west}\SeqL{n54a.east}{n54b.west}\SeqL{n54b.east}{309.8,5962.3}\SeqL{n54c.east}{n54d.west}\SeqL{n54e.east}{n54f.west}
\OptG{309.8}{446}{5962.3}{5945.7}{5978.3}{n54c}{n54d}
\SeqL{446,5962.3}{470.2,5962.3}
\OptG{470.2}{586.8}{5962.3}{5945.7}{5978.3}{n54e}{n54f}
\ExL{586.8,5962.3}
\SimpleN{55}{6028.3}{NavigatingArgExpCS}{140.2}{180}{ExpCS}
% IfExpCS
\LabN{l56}{6075.7}{IfExpCS}
\TMb{n56a}{79.6}{95.2}{6075.7}{if}
\NTb{n56b}{116}{155.8}{6075.7}{ExpCS}
\TMb{n56c}{177.7}{208.3}{6075.7}{then}
\NTb{n56d}{229.6}{269.4}{6075.7}{ExpCS}
\TMb{n56e}{291.3}{319}{6075.7}{else}
\NTb{n56f}{340.4}{380.2}{6075.7}{ExpCS}
\TMb{n56g}{401.5}{434.4}{6075.7}{endif}
\LabL{l56}{n56a.west}\SeqL{n56a.east}{n56b.west}\SeqL{n56b.east}{n56c.west}\SeqL{n56c.east}{n56d.west}\SeqL{n56d.east}{n56e.west}\SeqL{n56e.east}{n56f.west}\SeqL{n56f.east}{n56g.west}\ExL{n56g.east}
% LetExpCS
\LabN{l57}{6157.7}{LetExpCS}
\TMb{n57a}{87.1}{107.9}{6157.7}{let}
\NTb{n57b}{129.2}{204.2}{6157.7}{LetVariableCS}
\TMb{n57c}{270.6}{283.9}{6157.7}{,}
\NTb{n57d}{305.2}{379.6}{6157.7}{LetVariableCS}
\TMb{n57e}{448.3}{466.2}{6157.7}{in}
\NTb{n57f}{487.5}{526.7}{6157.7}{ExpCS}
\LabL{l57}{n57a.west}\SeqL{n57a.east}{n57b.west}\SeqL{n57b.east}{227.3,6157.7}\SeqL{n57c.east}{n57d.west}
\LoopG{227.3}{243.5}{409}{425.8}{6157.7}{n57c}{n57d}
\SeqL{425.8,6157.7}{n57e.west}\SeqL{n57e.east}{n57f.west}\ExL{n57f.east}
% LetVariableCS
\LabN{l58}{6256.7}{LetVariableCS}
\NTb{n58a}{107.3}{202}{6256.7}{UnrestrictedName}
\TMb{n58b}{244}{257.3}{6240}{:}
\NTb{n58c}{278.7}{342.1}{6240}{TypeExpCS}
\TMb{n58d}{384.2}{401.5}{6256.7}{=}
\NTb{n58e}{422.9}{462.2}{6256.7}{ExpCS}
\LabL{l58}{n58a.west}\SeqL{n58a.east}{226.1,6256.7}\SeqL{n58b.east}{n58c.west}
\OptG{226.1}{362.3}{6256.7}{6240}{6272.3}{n58b}{n58c}
\SeqL{362.3,6256.7}{n58d.west}\SeqL{n58d.east}{n58e.west}\ExL{n58e.east}
% NestedExpCS
\LabN{l59}{6321.7}{NestedExpCS}
\TMb{n59a}{106.2}{118.9}{6321.7}{(}
\NTb{n59b}{140.2}{180}{6321.7}{ExpCS}
\TMb{n59c}{201.4}{214.6}{6321.7}{)}
\LabL{l59}{n59a.west}\SeqL{n59a.east}{n59b.west}\SeqL{n59b.east}{n59c.west}\ExL{n59c.east}
\SimpleT{60}{6370}{SelfExpCS}{90}{115.4}{self}
\end{tikzpicture}
\end{document}
